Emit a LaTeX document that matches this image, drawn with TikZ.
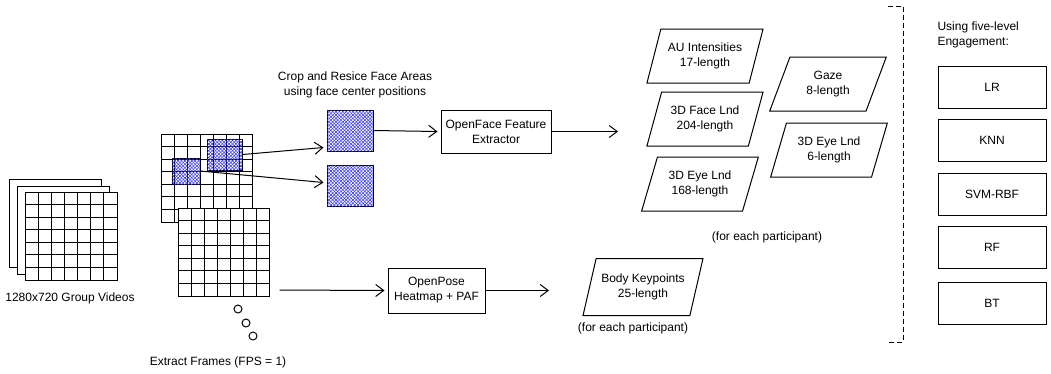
\documentclass[tikz,border=0pt]{standalone}
\usepackage{fontspec}
\setmainfont{Liberation Sans}
\usepackage{tikz}
\usetikzlibrary{positioning,shapes.geometric,arrows.meta,patterns.meta,calc}
\tikzstyle{vid} = [rectangle, draw, fill=white, minimum width=92pt, minimum height=88pt, inner sep=0pt]
\tikzstyle{grid7} = [path picture={
    \foreach \i in {1,...,6} {
        \draw ($(path picture bounding box.north west)!\i/7!(path picture bounding box.north east)$) -- ($(path picture bounding box.south west)!\i/7!(path picture bounding box.south east)$);
        \draw ($(path picture bounding box.north west)!\i/7!(path picture bounding box.south west)$) -- ($(path picture bounding box.north east)!\i/7!(path picture bounding box.south east)$);
    }}]
\tikzstyle{face} = [rectangle, draw, inner sep=0pt, pattern={Lines[angle=45,distance=2.4pt,line width=0.55pt]}, pattern color=blue!80,
    postaction={pattern={Lines[angle=-45,distance=2.4pt,line width=0.55pt]}, pattern color=blue!80}]
\tikzstyle{proc} = [rectangle, draw, align=center, inner sep=0pt]
\tikzstyle{feat} = [trapezium, trapezium left angle=66, trapezium right angle=114, trapezium stretches=true, draw, align=center, minimum width=117pt, minimum height=54pt, inner sep=0pt]
\tikzstyle{clf} = [rectangle, draw, minimum width=108pt, minimum height=42pt]
\tikzstyle{dot} = [circle, draw, minimum size=8pt, inner sep=0pt]
\tikzstyle{lbl} = [align=center, inner sep=0pt]
\tikzstyle{line} = [draw, -{Straight Barb[length=8pt,width=12pt]}]

\begin{document}
\begin{tikzpicture}[x=1pt, y=-1pt, line width=1pt, font=\fontsize{12}{15}\selectfont]
        \useasboundingbox (0,0) rectangle (1051,373);
        % Input videos
        \node at (55, 223) [vid] (v3) {};
        \node at (63, 230) [vid] (v2) {};
        \node at (71, 236) [vid, grid7] (v1) {};
        \node at (70, 298) [lbl] (vname) {1280x720 Group Videos};

        % Extracted frames
        \node at (206.5, 178) [vid, minimum width=91pt, grid7] (fr1) {};
        \node at (186, 171) [face, minimum width=28pt, minimum height=26pt] (fsmall) {};
        \node at (224.5, 154.5) [face, minimum width=35pt, minimum height=31pt] (fbig) {};
        \node at (223.5, 252) [vid, minimum width=91pt, grid7] (fr2) {};
        \node at (238, 309) [dot] (d1) {};
        \node at (246, 323) [dot] (d2) {};
        \node at (253, 336) [dot] (d3) {};
        \node at (218, 362) [lbl] (frname) {Extract Frames (FPS = 1)};

        % Face crops
        \node at (355, 85) [lbl] (cropname) {Crop and Resice Face Areas\\using face center positions};
        \node at (350, 130.5) [face, minimum width=46pt, minimum height=41pt] (c1) {};
        \node at (350, 185.5) [face, minimum width=46pt, minimum height=41pt] (c2) {};

        % Extractors
        \node at (496, 131.5) [proc, minimum width=110pt, minimum height=43pt] (ofx) {OpenFace Feature\\Extractor};
        \node at (436.5, 290.5) [proc, minimum width=97pt, minimum height=45pt] (op) {OpenPose\\Heatmap + PAF};
        \coordinate (fo) at (618, 131.5);

        % Features
        \node at (705, 56) [feat] (au) {AU Intensities\\17-length};
        \node at (705, 119) [feat] (fland) {3D Face Lnd\\204-length};
        \node at (700, 184) [feat] (eland) {3D Eye Lnd\\168-length};
        \node at (828, 84) [feat] (gaze) {Gaze\\8-length};
        \node at (829, 150) [feat] (eland2) {3D Eye Lnd\\6-length};
        \node at (767, 237) [lbl] (each1) {(for each participant)};
        \node at (643, 287) [feat, minimum width=120pt, minimum height=57pt] (body) {Body Keypoints\\25-length};
        \node at (633, 328) [lbl] (each2) {(for each participant)};

        % Classifiers
        \draw [dash pattern=on 5pt off 3pt] (888, 6) -- (903, 6) -- (903, 342) -- (888, 342);
        \node at (937, 35) [lbl, anchor=west, align=left] (cname) {Using five-level\\Engagement:};
        \foreach \nm/\y in {LR/87, KNN/140, SVM-RBF/194, RF/247, BT/303}
            \node at (992, \y) [clf] (\nm) {\nm};

        % Draw edges
        \path [line] (fbig.east) -- ([yshift=-17pt, xshift=-3pt]c1.west);
        \path [line] (fsmall.east) -- ([yshift=3pt, xshift=-3pt]c2.west);
        \path [line] (c1.east) -- ([xshift=-3pt]ofx.west);
        \path [line] (ofx.east) -- (fo);
        \path [line] ([xshift=10pt, yshift=-38pt]fr2.east) -- ([xshift=-3pt]op.west);
        \path [line, shorten >=40pt] (op.east) -- (op.east -| body.west);
    \end{tikzpicture}
\end{document}
